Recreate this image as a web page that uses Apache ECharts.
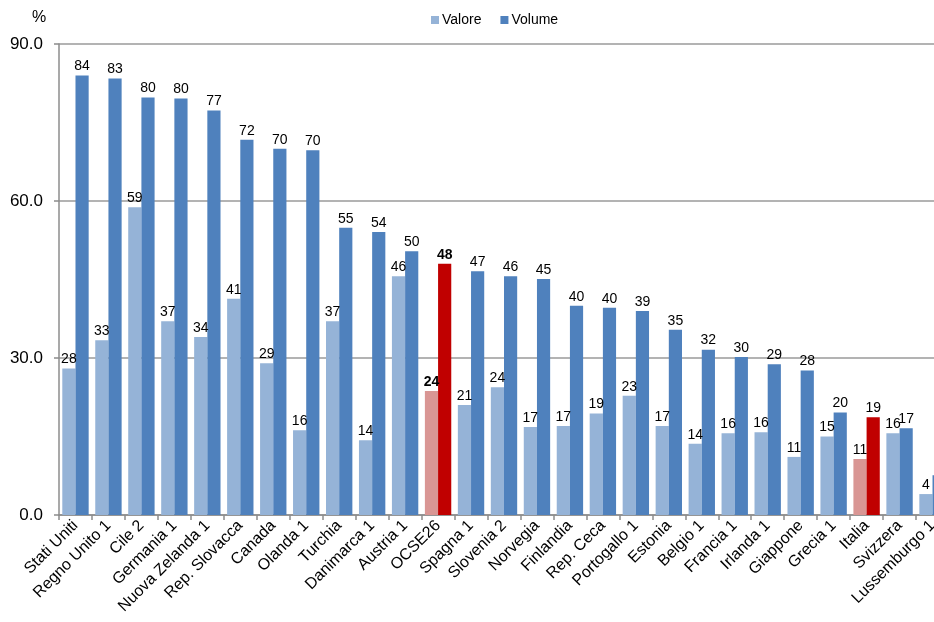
<!DOCTYPE html>
<html>
<head>
<meta charset="utf-8">
<script src="https://cdn.jsdelivr.net/npm/echarts@6/dist/echarts.min.js"></script>
<style>html,body{margin:0;padding:0;background:#fff;overflow:hidden;width:934px;height:622px;}#c{width:949px;height:622px;}</style>
</head>
<body>
<div id="c"></div>
<script>
var categories = ["Stati Uniti","Regno Unito 1","Cile 2","Germania 1","Nuova Zelanda 1","Rep. Slovacca","Canada","Olanda 1","Turchia","Danimarca 1","Austria 1","OCSE26","Spagna 1","Slovenia 2","Norvegia","Finlandia","Rep. Ceca","Portogallo 1","Estonia","Belgio 1","Francia 1","Irlanda 1","Giappone","Grecia 1","Italia","Svizzera","Lussemburgo 1"];
var valore = [28.0,33.4,58.8,37.0,34.0,41.3,29.0,16.2,37.0,14.3,45.6,23.7,21.0,24.4,16.8,17.0,19.4,22.8,17.0,13.6,15.6,15.8,11.1,15.0,10.7,15.6,4.0];
var volume = [84.0,83.4,79.8,79.6,77.3,71.7,70.0,69.7,54.9,54.1,50.4,48.0,46.6,45.6,45.1,40.0,39.6,39.0,35.4,31.6,30.2,28.8,27.6,19.6,18.7,16.6,7.6];
var yTicks = [0, 30, 60, 90];
var highlighted = ["OCSE26","Italia"];
var boldLabels = ["OCSE26"];

var FONT = '"Liberation Sans", Arial, sans-serif';
function buildData(vals, hiColor) {
  return vals.map(function (v, i) {
    var item = { value: v };
    if (highlighted.indexOf(categories[i]) >= 0) item.itemStyle = { color: hiColor };
    if (boldLabels.indexOf(categories[i]) >= 0) item.label = { fontWeight: 'bold' };
    return item;
  });
}
var labelCfg = {
  show: true, position: 'top', distance: 2, color: '#000', fontSize: 14, fontFamily: FONT,
  formatter: function (p) { return Math.round(p.value); }
};
var chart = echarts.init(document.getElementById('c'), null, { renderer: 'canvas' });
chart.setOption({
  animation: false,
  backgroundColor: '#fff',
  textStyle: { fontFamily: FONT },
  legend: {
    top: 8, left: 426, itemWidth: 8, itemHeight: 8, itemGap: 19, icon: 'rect',
    textStyle: { fontSize: 14, color: '#000', fontFamily: FONT, padding: [0, 0, 0, -2] },
    data: ['Valore', 'Volume']
  },
  graphic: [{ type: 'text', left: 32, top: 10, style: { text: '%', fill: '#000', font: '16px ' + FONT } }],
  grid: { left: 59, right: 0, top: 44, bottom: 107, containLabel: false },
  xAxis: {
    type: 'category', data: categories,
    axisLine: { lineStyle: { color: '#8c8c8c', width: 1.5 } },
    axisTick: { show: true, length: 5, lineStyle: { color: '#8c8c8c', width: 1.5 } },
    axisLabel: { rotate: 45, fontSize: 16, color: '#000', fontFamily: FONT, margin: 8, interval: 0 }
  },
  yAxis: {
    type: 'value', min: yTicks[0], max: yTicks[yTicks.length - 1], interval: yTicks[1] - yTicks[0],
    axisLine: { show: true, lineStyle: { color: '#8c8c8c', width: 1.5 } },
    axisTick: { show: true, length: 5, lineStyle: { color: '#8c8c8c', width: 1.5 } },
    splitLine: { lineStyle: { color: '#9a9a9a', width: 1.5 } },
    axisLabel: { fontSize: 17, color: '#000', fontFamily: FONT, margin: 16, formatter: function (v) { return v.toFixed(1); } }
  },
  series: [
    { name: 'Valore', type: 'bar', barGap: '0%', barCategoryGap: '20%', itemStyle: { color: '#95B3D7' },
      label: labelCfg, data: buildData(valore, '#D99694') },
    { name: 'Volume', type: 'bar', barGap: '0%', barCategoryGap: '20%', itemStyle: { color: '#4F81BD' },
      label: labelCfg, data: buildData(volume, '#C00000') }
  ]
});
</script>
</body>
</html>
